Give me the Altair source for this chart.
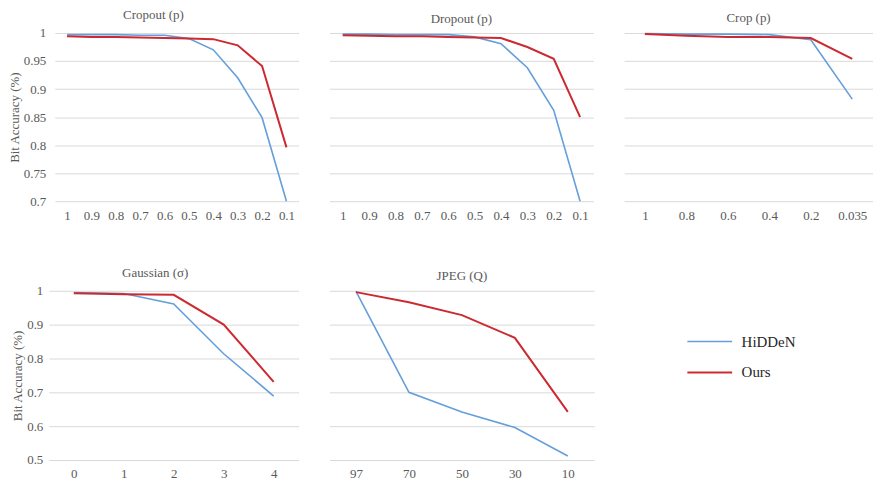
import altair as alt
import pandas as pd

FONT = "Liberation Serif"
BLUE = "#649FDB"
RED = "#CC2A30"
GREY = "#595959"
METHODS = ["HiDDeN", "Ours"]

cropout_x = ["1", "0.9", "0.8", "0.7", "0.6", "0.5", "0.4", "0.3", "0.2", "0.1"]
cropout_hidden = [0.997, 0.997, 0.997, 0.996, 0.996, 0.990, 0.970, 0.920, 0.849, 0.700]
cropout_ours = [0.994, 0.993, 0.993, 0.992, 0.991, 0.990, 0.989, 0.978, 0.941, 0.796]

dropout_x = ["1", "0.9", "0.8", "0.7", "0.6", "0.5", "0.4", "0.3", "0.2", "0.1"]
dropout_hidden = [0.998, 0.998, 0.997, 0.997, 0.997, 0.993, 0.981, 0.938, 0.862, 0.700]
dropout_ours = [0.996, 0.995, 0.994, 0.994, 0.993, 0.992, 0.991, 0.975, 0.954, 0.850]

crop_x = ["1", "0.8", "0.6", "0.4", "0.2", "0.035"]
crop_hidden = [0.999, 0.998, 0.998, 0.997, 0.988, 0.882]
crop_ours = [0.998, 0.995, 0.993, 0.993, 0.991, 0.954]

gauss_x = ["0", "1", "2", "3", "4"]
gauss_hidden = [0.995, 0.992, 0.961, 0.814, 0.689]
gauss_ours = [0.993, 0.990, 0.988, 0.900, 0.731]

jpeg_x = ["97", "70", "50", "30", "10"]
jpeg_hidden = [0.998, 0.700, 0.642, 0.596, 0.512]
jpeg_ours = [0.996, 0.966, 0.928, 0.861, 0.642]

top_ticks = [0.7, 0.75, 0.8, 0.85, 0.9, 0.95, 1.0]
bottom_ticks = [0.5, 0.6, 0.7, 0.8, 0.9, 1.0]


def panel(title, xs, hid, ours, width, height, ticks, fmt, show_y, x_start=0, label_pad=8):
    n = len(xs)
    df = pd.DataFrame({
        "x": xs + xs,
        "y": hid + ours,
        "method": [METHODS[0]] * n + [METHODS[1]] * n,
        "idx": list(range(n)) * 2,
    })
    yaxis = alt.Axis(
        values=ticks,
        format=fmt,
        title="Bit Accuracy (%)" if show_y else None,
        labels=show_y,
        labelPadding=label_pad,
        titlePadding=2,
        minExtent=0,
        labelFont=FONT,
        labelFontSize=13,
        labelColor=GREY,
        titleFont=FONT,
        titleFontSize=13,
        titleFontWeight="normal",
        titleColor=GREY,
    )
    xaxis = alt.Axis(
        title=None,
        labelAngle=0,
        grid=False,
        labelPadding=8,
        labelFont=FONT,
        labelFontSize=13,
        labelColor=GREY,
    )
    xscale = alt.Scale(range=[x_start, width]) if x_start else alt.Scale()
    return (
        alt.Chart(df, title=alt.Title(title, frame="bounds" if show_y else "group"))
        .mark_line()
        .encode(
            x=alt.X("x:N", sort=xs, axis=xaxis, scale=xscale),
            y=alt.Y("y:Q", scale=alt.Scale(domain=[ticks[0], 1.0], nice=False, zero=False), axis=yaxis),
            color=alt.Color(
                "method:N",
                scale=alt.Scale(domain=METHODS, range=[BLUE, RED]),
                legend=alt.Legend(title=None),
            ),
            strokeWidth=alt.StrokeWidth(
                "method:N", scale=alt.Scale(domain=METHODS, range=[1.6, 2.0]), legend=None
            ),
            order=alt.Order("idx:Q"),
        )
        .properties(width=width, height=height)
    )


top = alt.hconcat(
    panel("Cropout (p)", cropout_x, cropout_hidden, cropout_ours, 251, 169, top_ticks, ".2~f", True,
          x_start=6, label_pad=3),
    panel("Dropout (p)", dropout_x, dropout_hidden, dropout_ours, 265, 169, top_ticks, ".2~f", False),
    panel("Crop (p)", crop_x, crop_hidden, crop_ours, 250, 169, top_ticks, ".2~f", False),
    spacing=31,
)
bottom = alt.hconcat(
    panel("Gaussian (σ)", gauss_x, gauss_hidden, gauss_ours, 251, 170, bottom_ticks, ".1~f", True,
          label_pad=6),
    panel("JPEG (Q)", jpeg_x, jpeg_hidden, jpeg_ours, 266, 170, bottom_ticks, ".1~f", False),
    spacing=31,
)

chart = (
    alt.vconcat(top, bottom, spacing=45)
    .properties(padding={"left": 0, "top": 0, "right": 0, "bottom": 0})
    .configure_view(stroke=None)
    .configure_title(font=FONT, fontSize=13, fontWeight="normal", color=GREY, offset=5)
    .configure_axis(
        labelFont=FONT,
        labelFontSize=13,
        labelColor=GREY,
        gridColor="#d9d9d9",
        gridWidth=1,
        domain=False,
        ticks=False,
    )
    .configure_legend(
        orient="none",
        legendX=654,
        legendY=300,
        padding=0,
        symbolType="M-2.5,0L2.5,0",
        symbolSize=324,
        symbolStrokeWidth=2,
        labelFont=FONT,
        labelFontSize=15,
        labelColor="#262626",
        labelOffset=22,
        rowPadding=13,
    )
)

chart.save("out.html", embed_options={"renderer": "svg", "actions": False})
